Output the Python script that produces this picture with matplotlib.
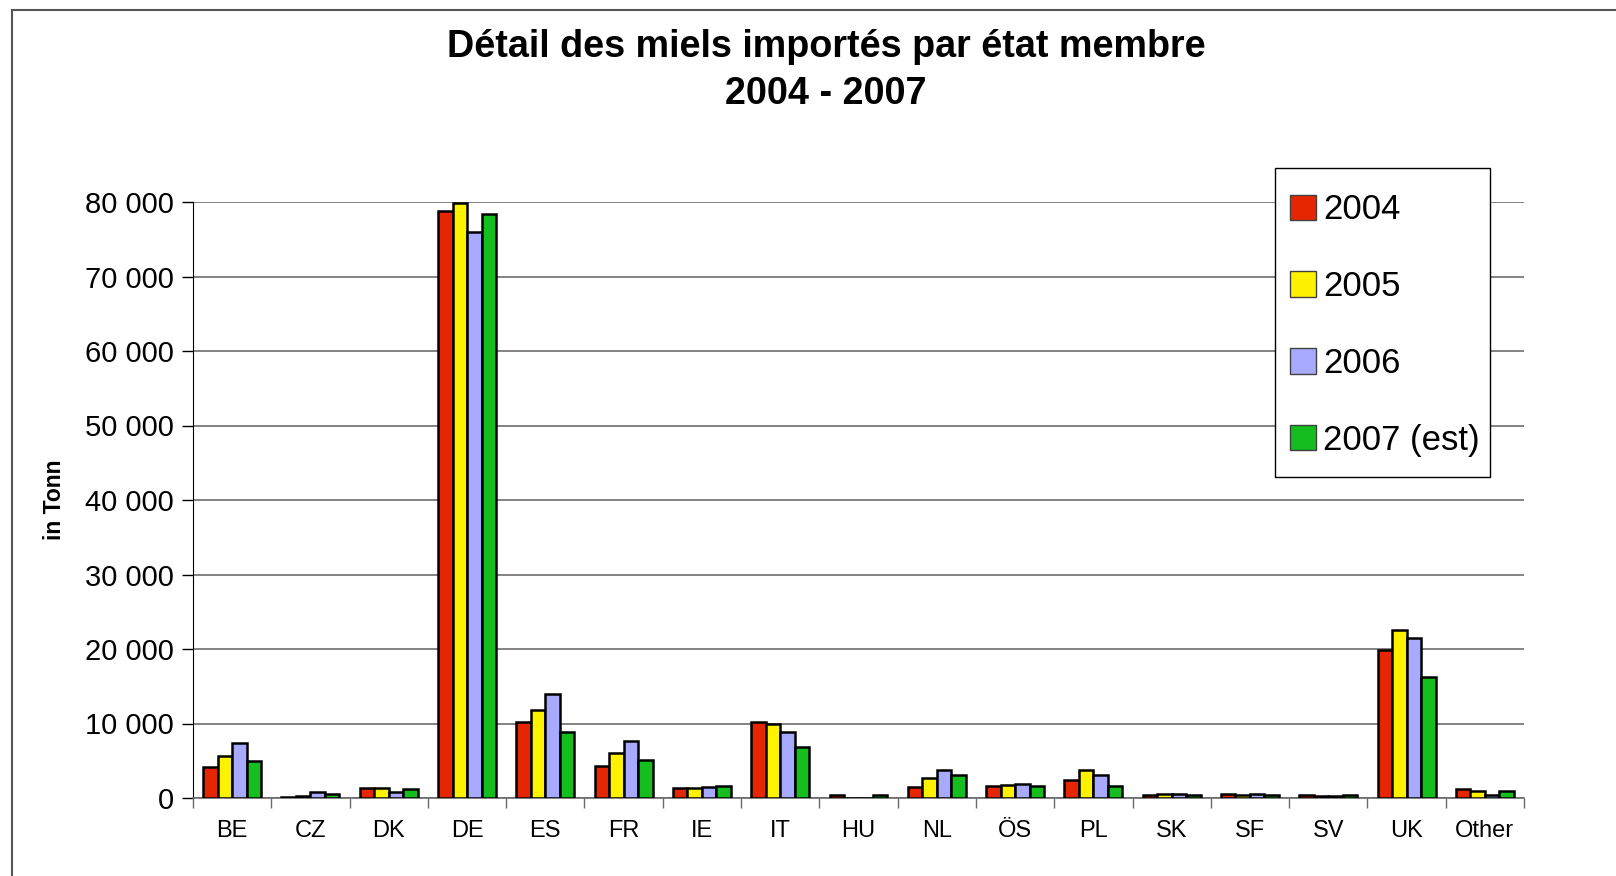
import numpy as np
import matplotlib
matplotlib.use("Agg")
import matplotlib.pyplot as plt
from matplotlib.patches import Patch, Rectangle
from matplotlib.ticker import FuncFormatter

plt.rcParams['font.family'] = ['Liberation Sans', 'DejaVu Sans']

countries = ['BE', 'CZ', 'DK', 'DE', 'ES', 'FR', 'IE', 'IT', 'HU', 'NL',
             'ÖS', 'PL', 'SK', 'SF', 'SV', 'UK', 'Other']
years = ['2004', '2005', '2006', '2007 (est)']

y2004 = [4200, 100, 1300, 78800, 10200, 4250, 1400, 10150, 450, 1450,
         1550, 2350, 350, 580, 450, 19900, 1150]
y2005 = [5700, 300, 1300, 79800, 11850, 6050, 1300, 9900, 0, 2650,
         1750, 3800, 480, 400, 300, 22550, 950]
y2006 = [7400, 850, 800, 76000, 13900, 7650, 1430, 8850, 0, 3750,
         1830, 3050, 580, 580, 250, 21450, 450]
y2007 = [4900, 500, 1200, 78400, 8800, 5130, 1650, 6800, 450, 3050,
         1560, 1650, 350, 400, 450, 16300, 900]

colors = ['#E62600', '#FFF200', '#A8AAFF', '#14BE1E']

fig = plt.figure(figsize=(16.16, 8.76), dpi=100)
W, H = 1616, 876
ax = fig.add_axes([193 / W, 1 - 798 / H, 1331 / W, 596 / H])

x = np.arange(len(countries))
bw = 0.185
series = [y2004, y2005, y2006, y2007]
for i, (vals, c) in enumerate(zip(series, colors)):
    ax.bar(x + (i - 1.5) * bw, vals, bw, color=c, edgecolor='black',
           linewidth=1.8, zorder=3)

ax.set_xlim(-0.5, len(countries) - 0.5)
ax.set_ylim(0, 80000)
ax.set_yticks(np.arange(0, 80001, 10000))
ax.yaxis.set_major_formatter(FuncFormatter(lambda v, p: f'{int(v):,}'.replace(',', ' ')))
ax.grid(axis='y', color='#606060', linewidth=1.1, zorder=0)
ax.tick_params(axis='y', labelsize=21, length=8, width=1, pad=6)

ax.set_xticks(x)
ax.set_xticklabels(countries, fontsize=17)
ax.tick_params(axis='x', length=0, pad=16)
ax.set_xticks(np.arange(-0.5, len(countries)), minor=True)
ax.tick_params(axis='x', which='minor', length=7, width=1, color='#6a6a6a')

for s in ['top', 'right']:
    ax.spines[s].set_visible(False)
ax.spines['left'].set_color('black')
ax.spines['bottom'].set_color('#6a6a6a')
ax.spines['bottom'].set_linewidth(1.2)

ax.set_ylabel('in Tonn', fontsize=16.5, fontweight='bold')
ax.yaxis.set_label_coords((66 - 193) / 1331, (798 - 500) / 596)

# legend frame drawn as a box, entries placed inside it
ax.add_patch(Rectangle((0.813, 0.539), 0.9745 - 0.813, 1.057 - 0.539,
                       transform=ax.transAxes, facecolor='white',
                       edgecolor='black', linewidth=1.0, clip_on=False, zorder=4))
handles = [Patch(facecolor=c, edgecolor='#404040', linewidth=1) for c in colors]
leg = ax.legend(handles, years, loc='upper left', bbox_to_anchor=(0.811, 1.0435),
                borderaxespad=0, fontsize=25, handlelength=0.75, handleheight=0.75,
                handletextpad=0.22, labelspacing=1.26, borderpad=0.5,
                frameon=False)
leg.set_zorder(5)

fig.text(826 / W, 1 - 47 / H, 'Détail des miels importés par état membre',
         ha='center', va='center', fontsize=27.2, fontweight='bold')
fig.text(826 / W, 1 - 94 / H, '2004 - 2007',
         ha='center', va='center', fontsize=27.2, fontweight='bold')

fig.patches.append(Rectangle((12 / W, -0.1), 1.2, 1 - 10 / H + 0.1,
                             transform=fig.transFigure, fill=False,
                             edgecolor='#555555', linewidth=1.5))

fig.savefig('out.png', dpi=100)
